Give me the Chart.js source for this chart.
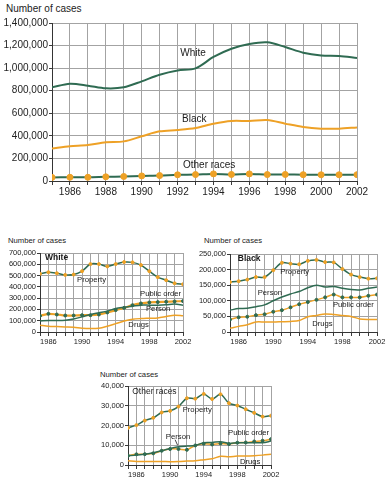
<!DOCTYPE html>
<html>
<head>
<meta charset="utf-8">
<script src="https://cdn.jsdelivr.net/npm/chart.js@4"></script>
<style>
  body { margin: 0; background: #fff; font-family: "Liberation Sans", Arial, sans-serif; }
  #wrap { position: relative; width: 390px; height: 483px; overflow: hidden; }
  canvas { position: absolute; }
  .ttl { position: absolute; color: #222; white-space: nowrap; }
</style>
</head>
<body>
<div id="wrap">
  <div class="ttl" style="left:6px;top:3px;font-size:10px;">Number of cases</div>
  <canvas id="cAll" width="390" height="205" style="left:0;top:0;"></canvas>

  <div class="ttl" style="left:8px;top:236px;font-size:7.7px;">Number of cases</div>
  <canvas id="cWhite" width="195" height="125" style="left:0;top:228px;"></canvas>

  <div class="ttl" style="left:204px;top:236px;font-size:7.7px;">Number of cases</div>
  <canvas id="cBlack" width="195" height="125" style="left:195px;top:228px;"></canvas>

  <div class="ttl" style="left:100px;top:370px;font-size:7.7px;">Number of cases</div>
  <canvas id="cOther" width="200" height="123" style="left:95px;top:360px;"></canvas>
</div>
<script>
// years and tick labels
const years = [1985, 1986, 1987, 1988, 1989, 1990, 1991, 1992, 1993, 1994, 1995, 1996, 1997, 1998, 1999, 2000, 2001, 2002];
const topYearLabels = [1986, 1988, 1990, 1992, 1994, 1996, 1998, 2000, 2002];
const smallYearLabels = [1986, 1990, 1994, 1998, 2002];

// all cases by race
const allWhite = [830000, 862000, 845000, 821000, 830000, 883000, 942000, 980000, 998000, 1099000, 1172000, 1214000, 1229000, 1187000, 1137000, 1113000, 1108000, 1090000];
const allBlack = [289000, 307000, 319000, 343000, 351000, 396000, 440000, 452000, 470000, 508000, 532000, 532000, 540000, 508000, 478000, 464000, 464000, 475000];
const allOther = [32000, 33000, 33000, 37000, 40000, 45000, 48000, 55000, 57000, 63000, 58000, 63000, 57000, 58000, 56000, 55000, 55000, 56000];

// White, by offense
const whiteProperty = [516000, 530000, 521000, 506000, 509000, 539000, 602000, 602000, 581000, 602000, 620000, 617000, 593000, 539000, 486000, 459000, 432000, 423000];
const whitePublicOrder = [143000, 161000, 155000, 146000, 146000, 149000, 149000, 155000, 173000, 194000, 214000, 238000, 253000, 262000, 265000, 268000, 271000, 274000];
const whitePerson = [98000, 101000, 101000, 104000, 116000, 134000, 155000, 170000, 185000, 209000, 220000, 229000, 238000, 238000, 238000, 241000, 247000, 238000];
const whiteDrugs = [60000, 51000, 48000, 45000, 42000, 33000, 30000, 33000, 51000, 74000, 98000, 113000, 119000, 122000, 125000, 137000, 149000, 143000];

// Black, by offense
const blackProperty = [160000, 163000, 168000, 176000, 176000, 198000, 222000, 219000, 217000, 228000, 231000, 224000, 223000, 202000, 184000, 176000, 171000, 172000];
const blackPerson = [70000, 75000, 76000, 81000, 87000, 100000, 112000, 122000, 130000, 142000, 150000, 144000, 146000, 140000, 136000, 135000, 140000, 144000];
const blackPublicOrder = [40000, 47000, 49000, 54000, 57000, 65000, 70000, 79000, 89000, 96000, 103000, 111000, 120000, 111000, 111000, 111000, 116000, 120000];
const blackDrugs = [12000, 18000, 23000, 32000, 32000, 32000, 33000, 34000, 37000, 49000, 53000, 58000, 56000, 53000, 50000, 42000, 40000, 40000];

// Other races, by offense
const otherProperty = [18800, 20200, 22500, 23900, 26600, 27400, 29600, 33800, 33600, 36000, 33400, 35800, 31300, 30100, 28200, 26400, 24500, 25000];
const otherPerson = [4700, 5000, 5400, 6200, 7200, 8400, 9200, 9600, 9900, 11300, 11400, 11800, 10900, 11300, 11300, 11300, 11300, 12100];
const otherPublicOrder = [4700, 5400, 5500, 5900, 7200, 8100, 8100, 7700, 9900, 10800, 10400, 10900, 10600, 11300, 11400, 11900, 12300, 13100];
const otherDrugs = [2200, 1800, 1800, 1800, 1800, 1700, 1800, 2000, 2200, 2700, 3200, 4400, 4200, 4500, 4500, 4700, 5000, 5400];

const GREEN = '#2f6b52';
const ORANGE = '#eea126';
const GRID = '#a3a3a3';
const AXIS = '#3a3a3a';
const FONT = '"Liberation Sans", Arial, sans-serif';

const pts = vals => years.map((y, i) => ({ x: y, y: vals[i] }));

// grid (painted behind what is already there) and in-plot labels
function notesPlugin(items, size) {
  return {
    id: 'notes',
    afterDatasetsDraw(chart) {
      const ctx = chart.ctx, a = chart.chartArea, xs = chart.scales.x, ys = chart.scales.y;
      const snap = p => Math.round(p - 0.5);
      const l = snap(a.left), b = snap(a.bottom), t = Math.round(a.top), r = Math.round(a.right);

      ctx.save();
      ctx.globalCompositeOperation = 'destination-over';
      ctx.fillStyle = AXIS;
      ctx.fillRect(l, t, 1, b - t + 1);
      ctx.fillRect(l, b, r - l + 1, 1);
      xs.ticks.forEach(k => ctx.fillRect(snap(xs.getPixelForValue(k.value)), b, 1, 4));
      ys.ticks.forEach(k => ctx.fillRect(l - 3, snap(ys.getPixelForValue(k.value)), 3, 1));
      ctx.fillStyle = GRID;
      xs.ticks.forEach(k => ctx.fillRect(snap(xs.getPixelForValue(k.value)), t, 1, b - t));
      ys.ticks.forEach(k => ctx.fillRect(l, snap(ys.getPixelForValue(k.value)), r - l + 1, 1));
      ctx.restore();

      ctx.save();
      ctx.fillStyle = '#1a1a1a';
      ctx.textAlign = 'left';
      ctx.textBaseline = 'middle';
      items.forEach(n => {
        ctx.font = (n.bold ? 'bold ' : '') + (n.size || size) + 'px ' + FONT;
        ctx.fillText(n.text, xs.getPixelForValue(n.x), ys.getPixelForValue(n.y));
        if (n.lead) {
          ctx.strokeStyle = '#1a1a1a';
          ctx.lineWidth = 0.8;
          ctx.beginPath();
          ctx.moveTo(xs.getPixelForValue(n.lead[0]), ys.getPixelForValue(n.lead[1]));
          ctx.lineTo(xs.getPixelForValue(n.lead[2]), ys.getPixelForValue(n.lead[3]));
          ctx.stroke();
        }
      });
      ctx.restore();
    }
  };
}

function makeChart(id, cfg) {
  return new Chart(document.getElementById(id), {
    type: 'line',
    data: { datasets: cfg.datasets },
    options: {
      responsive: false,
      animation: false,
      layout: { padding: { top: cfg.padTop, right: cfg.padRight, left: 0, bottom: 0 } },
      plugins: { legend: { display: false }, tooltip: { enabled: false } },
      elements: { line: { tension: 0.3 } },
      scales: {
        x: {
          type: 'linear', min: 1985, max: 2002,
          afterFit: s => { s.height = cfg.xHeight; },
          grid: {
            color: c => (c.tick && c.tick.value === 1985) ? AXIS : GRID,
            tickColor: AXIS, tickLength: 3
          },
          ticks: {
            stepSize: 1, autoSkip: false, maxRotation: 0, padding: 2,
            color: '#222', font: { family: FONT, size: cfg.tickSize },
            callback: v => cfg.xLabels.includes(v) ? String(v) : ''
          }
        },
        y: {
          min: 0, max: cfg.yMax,
          afterFit: s => { s.width = cfg.yWidth; },
          grid: {
            color: c => (c.tick && c.tick.value === 0) ? AXIS : GRID,
            tickColor: AXIS, tickLength: 3
          },
          ticks: {
            stepSize: cfg.yStep, autoSkip: false, padding: 1,
            color: '#222', font: { family: FONT, size: cfg.tickSize },
            callback: v => v.toLocaleString('en-US')
          }
        }
      }
    },
    plugins: [notesPlugin(cfg.notes, cfg.noteSize)]
  });
}

function plain(vals, color, w) {
  return { data: pts(vals), borderColor: color, borderWidth: w, pointRadius: 0 };
}
function marked(vals, color, dot, w, r) {
  return { data: pts(vals), borderColor: color, borderWidth: w, pointRadius: r,
           pointBackgroundColor: dot, pointBorderColor: dot, pointBorderWidth: 1 };
}

// top: all cases
makeChart('cAll', {
  padTop: 23, padRight: 33, yWidth: 52, xHeight: 24,
  yMax: 1400000, yStep: 200000, tickSize: 10, noteSize: 10, xLabels: topYearLabels,
  datasets: [
    plain(allWhite, GREEN, 2),
    plain(allBlack, ORANGE, 2),
    marked(allOther, GREEN, ORANGE, 2, 3)
  ],
  notes: [
    { text: 'White', x: 1992.15, y: 1134000 },
    { text: 'Black', x: 1992.25, y: 549000 },
    { text: 'Other races', x: 1992.3, y: 142000 }
  ]
});

// White
makeChart('cWhite', {
  padTop: 25, padRight: 12, yWidth: 40, xHeight: 21,
  yMax: 700000, yStep: 100000, tickSize: 7.5, noteSize: 7.7, xLabels: smallYearLabels,
  datasets: [
    plain(whiteDrugs, ORANGE, 1.5),
    plain(whitePerson, GREEN, 1.5),
    marked(whitePublicOrder, ORANGE, GREEN, 2.2, 1.5),
    marked(whiteProperty, GREEN, ORANGE, 1.5, 1.5)
  ],
  notes: [
    { text: 'White', x: 1985.6, y: 659000, bold: true, size: 8.5 },
    { text: 'Property', x: 1989.4, y: 462000 },
    { text: 'Public order', x: 1996.9, y: 337000 },
    { text: 'Person', x: 1997.6, y: 202000 },
    { text: 'Drugs', x: 1995.5, y: 60000 }
  ]
});

// Black
makeChart('cBlack', {
  padTop: 26, padRight: 13, yWidth: 35, xHeight: 21,
  yMax: 250000, yStep: 50000, tickSize: 7.5, noteSize: 7.7, xLabels: smallYearLabels,
  datasets: [
    plain(blackDrugs, ORANGE, 1.5),
    plain(blackPerson, GREEN, 1.5),
    marked(blackPublicOrder, ORANGE, GREEN, 1.5, 1.5),
    marked(blackProperty, GREEN, ORANGE, 1.5, 1.5)
  ],
  notes: [
    { text: 'Black', x: 1985.9, y: 234000, bold: true, size: 8.5 },
    { text: 'Property', x: 1990.8, y: 192000 },
    { text: 'Person', x: 1988.2, y: 125000 },
    { text: 'Public order', x: 1996.9, y: 86500 },
    { text: 'Drugs', x: 1994.5, y: 25600 }
  ]
});

// Other races
makeChart('cOther', {
  padTop: 26, padRight: 24, yWidth: 33, xHeight: 18,
  yMax: 40000, yStep: 10000, tickSize: 7.5, noteSize: 7.7, xLabels: smallYearLabels,
  datasets: [
    plain(otherDrugs, ORANGE, 1.5),
    plain(otherPerson, GREEN, 1.5),
    marked(otherPublicOrder, ORANGE, GREEN, 1.5, 1.5),
    marked(otherProperty, GREEN, ORANGE, 1.5, 1.5)
  ],
  notes: [
    { text: 'Other races', x: 1985.5, y: 36900, size: 8.5 },
    { text: 'Property', x: 1991.5, y: 27800 },
    { text: 'Person', x: 1989.5, y: 14200, lead: [1990.6, 12800, 1990.9, 10000] },
    { text: 'Public order', x: 1996.9, y: 16200 },
    { text: 'Drugs', x: 1998.3, y: 1500 }
  ]
});
</script>
</body>
</html>
